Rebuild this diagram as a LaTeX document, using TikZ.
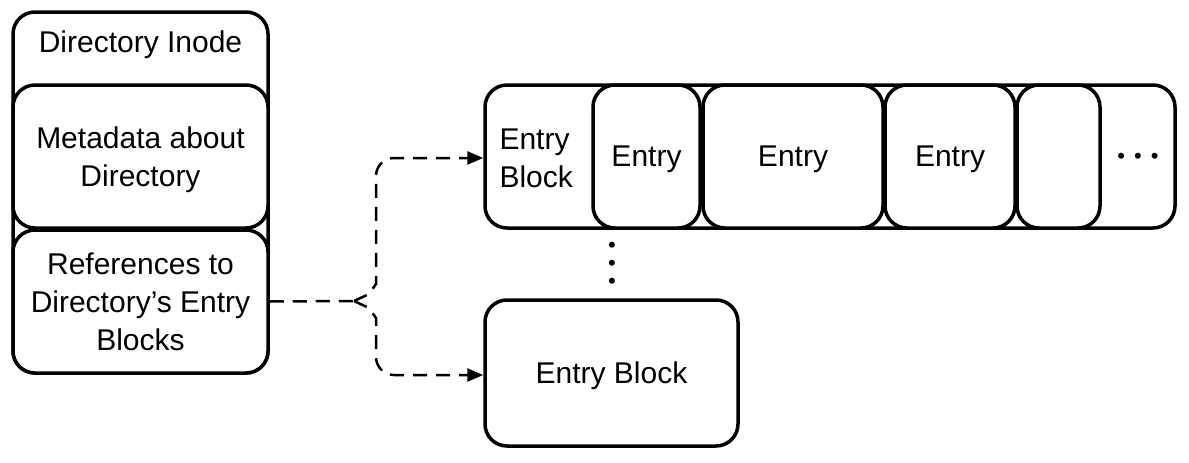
\documentclass[tikz,border=0pt]{standalone}
\usepackage{fontspec}
\setmainfont{Liberation Sans}
\usetikzlibrary{arrows.meta, positioning}

\begin{document}
\begin{tikzpicture}[
            x=1pt, y=-1pt,
            >={Triangle[length=16pt,width=13pt]},
            font=\fontsize{30}{38}\selectfont,
            every node/.style={text depth=0pt},
            box/.style={
                draw,
                fill=white,
                rectangle,
                rounded corners=22pt,
                line width=3.5pt,
                inner sep=0pt,
                align=center
            },
            link/.style={
                dash pattern=on 14pt off 9pt,
                line width=2.5pt
            }
        ]
            \useasboundingbox (0,0) rectangle (1189,463);

            % Directory inode
            \node [box, minimum width=255pt, minimum height=361pt] (inode) at (140.5,192.5) {};
            \node (inodetitle) at (140.5,42) {Directory Inode};
            \node [box, minimum width=255pt, minimum height=143pt] (meta) at (140.5,156.5)
                {Metadata about\\Directory};
            \node [box, minimum width=255pt, minimum height=143pt] (refs) at (140.5,301.5)
                {References to\\Directory's Entry\\Blocks};

            % First entry block with its entries
            \node [box, minimum width=690pt, minimum height=143pt] (row) at (830,156.5) {};
            \node [align=left, anchor=west] (rowtitle) at (496,158) {Entry\\Block};
            \node [box, minimum width=107pt, minimum height=143pt] (entA) at (646.5,156.5) {Entry};
            \node [box, minimum width=180pt, minimum height=143pt] (entB) at (793,156.5) {Entry};
            \node [box, minimum width=130pt, minimum height=143pt] (entC) at (950,156.5) {Entry};
            \node [box, minimum width=83pt, minimum height=143pt] (entD) at (1058.5,156.5) {};
            \node [font=\fontsize{22}{22}\selectfont] (more) at (1138,158)
                {\textbullet\hspace{9pt}\textbullet\hspace{9pt}\textbullet};

            % Further entry blocks
            \node [font=\fontsize{22}{18}\selectfont, align=center, inner sep=0pt] (vdots) at (612,265)
                {\textbullet\\\textbullet\\\textbullet};
            \node [box, minimum width=253pt, minimum height=146pt] (block) at (611.5,373) {Entry Block};

            % References to the blocks
            \coordinate (split) at (354,301);
            \draw [link] (refs.east) -- (split);
            \draw [link, ->] (split) -- (369,294) -- (376,284) [rounded corners=18pt] -- (376,158) -- (row.west |- 0,158);
            \draw [link, ->] (split) -- (369,308) -- (376,318) [rounded corners=18pt] -- (376,375) -- (block.west |- 0,375);
        \end{tikzpicture}
\end{document}
